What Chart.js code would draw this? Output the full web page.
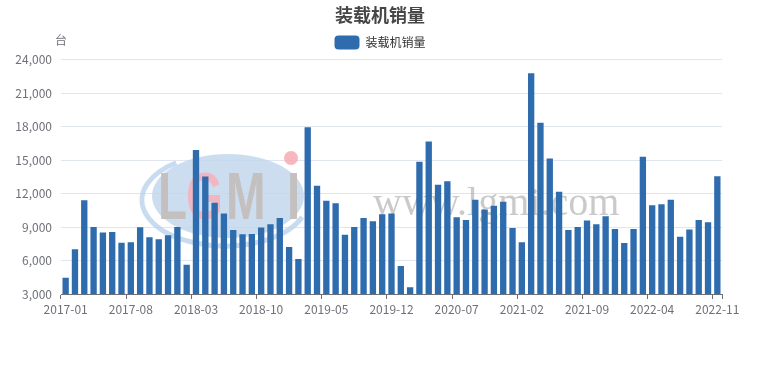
<!DOCTYPE html>
<html><head><meta charset="utf-8">
<script src="https://cdn.jsdelivr.net/npm/chart.js@4/dist/chart.umd.min.js"></script>
<style>html,body{margin:0;padding:0;background:#fff}canvas{display:block}</style>
</head><body>
<canvas id="c" width="760" height="370"></canvas>
<script>
const chartTitle = '装载机销量';
const seriesName = '装载机销量';
const unitLabel = '台';
const categories = [
 '2017-01','2017-02','2017-03','2017-04','2017-05','2017-06','2017-07','2017-08','2017-09','2017-10','2017-11','2017-12',
 '2018-01','2018-02','2018-03','2018-04','2018-05','2018-06','2018-07','2018-08','2018-09','2018-10','2018-11','2018-12',
 '2019-01','2019-02','2019-03','2019-04','2019-05','2019-06','2019-07','2019-08','2019-09','2019-10','2019-11','2019-12',
 '2020-01','2020-02','2020-03','2020-04','2020-05','2020-06','2020-07','2020-08','2020-09','2020-10','2020-11','2020-12',
 '2021-01','2021-02','2021-03','2021-04','2021-05','2021-06','2021-07','2021-08','2021-09','2021-10','2021-11','2021-12',
 '2022-01','2022-02','2022-03','2022-04','2022-05','2022-06','2022-07','2022-08','2022-09','2022-10','2022-11'
];
const sales = [
 4460, 7010, 11410, 9010, 8500, 8560, 7600, 7640, 8980, 8090, 7900, 8260,
 9010, 5630, 15890, 13530, 11170, 10210, 8740, 8360, 8380, 8950, 9250, 9820,
 7220, 6140, 17930, 12690, 11350, 11140, 8300, 9010, 9820, 9520, 10150, 10210,
 5510, 3600, 14850, 16670, 12780, 13110, 9880, 9640, 11440, 10570, 10900, 11260,
 8920, 7640, 22770, 18350, 15150, 12150, 8740, 9010, 9580, 9250, 9970, 8830,
 7580, 8830, 15290, 10960, 11050, 11440, 8120, 8770, 9640, 9430, 13560
];
const yMin = 3000, yMax = 24000, yStep = 3000;
const labelEvery = 7;

const axisColor = '#6e7079';
const gridColor = '#e0e6f1';
const barColor = '#2e6cad';
const cjk = '"Noto Sans CJK SC", "Noto Sans", sans-serif';

const watermark = {
  id: 'watermark',
  beforeDatasetsDraw(chart) {
    const ctx = chart.ctx;
    ctx.save();
    ctx.beginPath();
    ctx.ellipse(228, 196, 76, 42, 0, 0, Math.PI * 2);
    ctx.fillStyle = 'rgba(190,212,236,0.78)';
    ctx.fill();
    ctx.beginPath();
    ctx.ellipse(225, 200, 83, 46, 0, Math.PI * 0.12, Math.PI * 1.3);
    ctx.lineWidth = 5;
    ctx.strokeStyle = 'rgba(178,204,233,0.7)';
    ctx.stroke();
    ctx.beginPath();
    ctx.arc(291, 158, 7, 0, Math.PI * 2);
    ctx.fillStyle = 'rgba(245,170,180,0.85)';
    ctx.fill();
    ctx.textBaseline = 'alphabetic';
    ctx.textAlign = 'left';
    ctx.save();
    const sx = 0.72;
    ctx.scale(sx, 1);
    ctx.font = 'bold 66px "Liberation Sans"';
    ctx.fillStyle = 'rgba(194,190,188,0.95)';
    ctx.fillText('L', 158 / sx, 219);
    ctx.fillStyle = 'rgba(244,180,190,0.9)';
    ctx.fillText('G', 186 / sx, 219);
    ctx.fillStyle = 'rgba(194,190,188,0.95)';
    ctx.fillText('M', 226 / sx, 219);
    ctx.fillText('I', 287 / sx, 219);
    ctx.restore();
    ctx.font = '40px "Liberation Serif"';
    ctx.fillStyle = 'rgba(150,150,150,0.5)';
    ctx.fillText('www.lgmi.com', 373, 215);
    ctx.restore();
  },
  afterDraw(chart) {
    const ctx = chart.ctx;
    ctx.save();
    ctx.font = '12px ' + cjk;
    ctx.fillStyle = axisColor;
    ctx.textAlign = 'center';
    ctx.textBaseline = 'middle';
    ctx.fillText(unitLabel, chart.chartArea.left, 40);
    ctx.restore();
  }
};

new Chart(document.getElementById('c'), {
  type: 'bar',
  data: {
    labels: categories,
    datasets: [{
      label: seriesName,
      data: sales,
      backgroundColor: barColor,
      borderWidth: 0,
      barPercentage: 0.68,
      categoryPercentage: 1.0,
      yAxisID: 'y'
    }]
  },
  options: {
    responsive: false,
    animation: false,
    layout: { padding: 0 },
    plugins: {
      title: {
        display: true,
        text: chartTitle,
        color: '#464646',
        font: { family: cjk, size: 18, weight: 'bold' },
        padding: { top: 4, bottom: 2 }
      },
      legend: {
        display: true,
        labels: {
          boxWidth: 25,
          boxHeight: 14,
          useBorderRadius: true,
          borderRadius: 4,
          color: '#333',
          padding: 8,
          font: { family: cjk, size: 12 }
        }
      },
      tooltip: { enabled: false }
    },
    scales: {
      x: {
        offset: true,
        grid: {
          offset: true,
          drawOnChartArea: false,
          drawTicks: true,
          tickLength: 5,
          tickColor: (c) => (c.index === undefined || c.index % labelEvery === 0) ? axisColor : 'rgba(0,0,0,0)'
        },
        border: { color: axisColor },
        ticks: {
          autoSkip: false,
          maxRotation: 0,
          minRotation: 0,
          padding: 3,
          color: axisColor,
          font: { family: cjk, size: 12 },
          callback: (v, i) => (i % labelEvery === 0 ? categories[i] : '')
        },
        afterFit: (s) => { s.height = 76; }
      },
      y: {
        position: 'left',
        min: yMin,
        max: yMax,
        grid: { color: gridColor, drawTicks: false },
        border: { display: false },
        ticks: {
          stepSize: yStep,
          padding: 9,
          color: axisColor,
          font: { family: cjk, size: 12 },
          callback: (v) => v.toLocaleString('en-US')
        },
        afterFit: (s) => { s.width = 61; }
      },
      yR: {
        type: 'linear',
        position: 'right',
        display: true,
        grid: { display: false, drawTicks: false },
        border: { display: false },
        ticks: { display: false },
        afterFit: (s) => { s.width = 38; }
      }
    }
  },
  plugins: [watermark]
});
</script>
</body></html>
